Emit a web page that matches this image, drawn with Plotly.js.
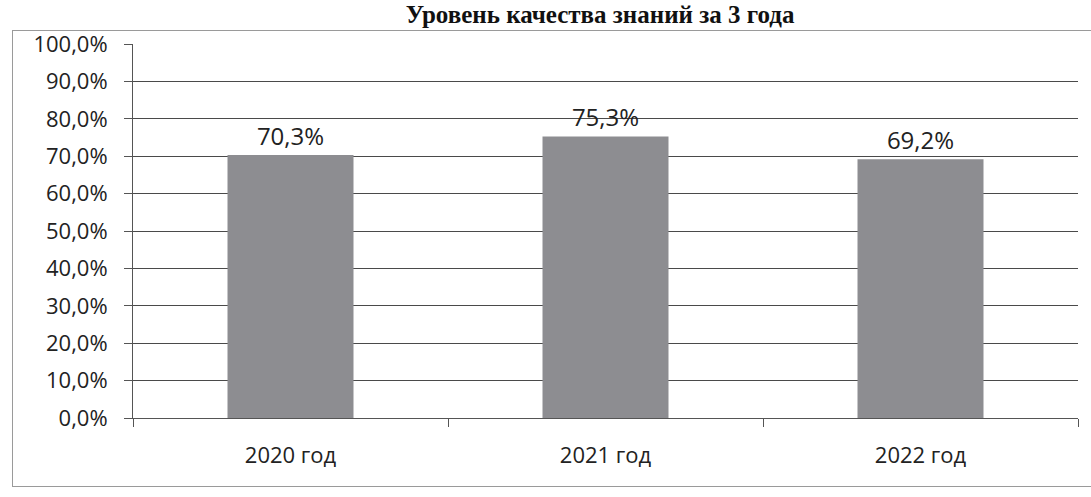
<!DOCTYPE html>
<html>
<head>
<meta charset="utf-8">
<script src="https://cdn.plot.ly/plotly-3.0.1.min.js"></script>
<style>
html,body{margin:0;padding:0;background:#fff;}
#frame{position:absolute;left:12px;top:30px;width:1100px;height:457px;border:1px solid #9a9a9a;box-sizing:border-box;}
#chart{position:absolute;left:0;top:0;width:1091px;height:497px;}
</style>
</head>
<body>
<div id="frame"></div>
<div id="chart"></div>
<script>
const categories = ['2020 год', '2021 год', '2022 год'];
const quality = [0.703, 0.753, 0.692];
const yTicks = [0, 0.1, 0.2, 0.3, 0.4, 0.5, 0.6, 0.7, 0.8, 0.9, 1.0];
const chartTitle = 'Уровень качества знаний за 3 года';

const trace = {
  type: 'bar',
  x: categories,
  y: quality,
  marker: {color: '#8d8d91', line: {width: 0}},
  texttemplate: '%{y:.1%}',
  textposition: 'outside',
  cliponaxis: false,
  textfont: {family: 'Open Sans', size: 24, color: '#222'},
  hoverinfo: 'skip'
};

const layout = {
  width: 1091, height: 497,
  paper_bgcolor: 'rgba(0,0,0,0)', plot_bgcolor: 'rgba(0,0,0,0)',
  separators: ', ',
  margin: {l: 133, r: 13, t: 44, b: 79},
  bargap: 0.6,
  showlegend: false,
  title: {
    text: '<b>' + chartTitle + '</b>',
    font: {family: 'Liberation Serif', size: 25, color: '#111'},
    x: 0.55, xanchor: 'center', xref: 'container',
    y: 0.972, yanchor: 'middle', yref: 'container'
  },
  xaxis: {
    type: 'category',
    showgrid: false,
    showline: true, linecolor: '#555', linewidth: 1,
    ticks: 'outside', tickson: 'boundaries', ticklen: 8, tickcolor: '#555',
    ticklabelstandoff: 18,
    tickfont: {family: 'Open Sans', size: 22, color: '#222'},
    fixedrange: true
  },
  yaxis: {
    range: [0, 1],
    tickvals: yTicks,
    tickformat: '.1%',
    showgrid: true, gridcolor: '#4a4a4a', gridwidth: 1,
    showline: true, linecolor: '#555', linewidth: 1,
    ticks: 'outside', ticklen: 8, tickcolor: '#555',
    ticklabelstandoff: 12,
    tickfont: {family: 'Open Sans', size: 22, color: '#222'},
    zeroline: false,
    fixedrange: true
  }
};

Plotly.newPlot('chart', [trace], layout, {displayModeBar: false, staticPlot: true});
</script>
</body>
</html>
